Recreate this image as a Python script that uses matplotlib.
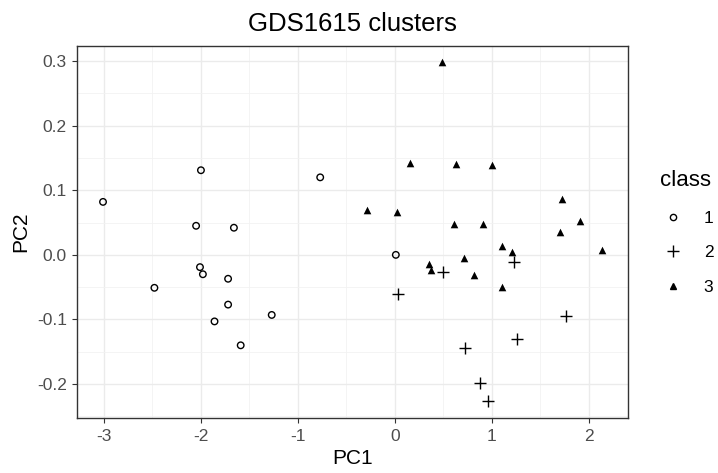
import matplotlib
matplotlib.use("Agg")
import matplotlib.pyplot as plt
from matplotlib.lines import Line2D

plt.rcParams['font.family'] = ['Liberation Sans', 'DejaVu Sans']

# class 1 points (PC1, PC2)
pc1_c1 = [-3.01, -2.00, -0.77, -2.05, -1.66, -2.01, -1.98, -1.72, -2.48, -1.72, -1.27, -1.86, -1.59, 0.01]
pc2_c1 = [0.082, 0.131, 0.120, 0.045, 0.042, -0.019, -0.030, -0.037, -0.051, -0.077, -0.093, -0.103, -0.140, 0.000]

# class 2
pc1_c2 = [1.23, 0.50, 0.03, 1.77, 1.26, 0.72, 0.88, 0.96]
pc2_c2 = [-0.011, -0.027, -0.060, -0.095, -0.131, -0.144, -0.198, -0.226]

# class 3
pc1_c3 = [0.49, 0.16, 0.63, 1.00, -0.29, 0.02, 1.72, 1.91, 0.61, 0.91, 1.70, 1.10, 1.21, 2.14,
          0.71, 0.35, 0.37, 0.82, 1.10]
pc2_c3 = [0.299, 0.142, 0.140, 0.139, 0.070, 0.067, 0.086, 0.053, 0.048, 0.048, 0.035, 0.014, 0.004, 0.007,
          -0.005, -0.014, -0.023, -0.031, -0.049]

xticks = [-3, -2, -1, 0, 1, 2]
yticks = [-0.2, -0.1, 0.0, 0.1, 0.2, 0.3]
xminor = [-2.5, -1.5, -0.5, 0.5, 1.5]
yminor = [-0.25, -0.15, -0.05, 0.05, 0.15, 0.25]

fig = plt.figure(figsize=(7.18, 4.73), dpi=100)
ax = fig.add_axes([0.1077, 0.117, 0.767, 0.786])

ax.scatter(pc1_c1, pc2_c1, marker='o', s=22, facecolors='none', edgecolors='black', linewidths=1.0, zorder=3)
ax.scatter(pc1_c2, pc2_c2, marker='+', s=70, color='black', linewidths=1.0, zorder=3)
ax.scatter(pc1_c3, pc2_c3, marker='^', s=30, color='black', linewidths=0, zorder=3)

ax.set_xlim(-3.275, 2.405)
ax.set_ylim(-0.252, 0.3235)
ax.set_xticks(xticks)
ax.set_yticks(yticks)
ax.set_xticklabels([str(t) for t in xticks])
ax.set_yticklabels(['%.1f' % t for t in yticks])
ax.set_xticks(xminor, minor=True)
ax.set_yticks(yminor, minor=True)
ax.grid(which='major', color='#ebebeb', linewidth=1.0, zorder=0)
ax.grid(which='minor', color='#f2f2f2', linewidth=0.6, zorder=0)
ax.set_axisbelow(True)
ax.tick_params(which='minor', length=0)
ax.tick_params(which='major', length=3.5, color='#333333', labelsize=12.5, labelcolor='#4d4d4d')
ax.tick_params(axis='x', pad=5)
ax.tick_params(axis='y', pad=4)
for s in ax.spines.values():
    s.set_color('#333333')
    s.set_linewidth(1.0)

ax.set_xlabel('PC1', fontsize=15, labelpad=3)
ax.set_ylabel('PC2', fontsize=15, labelpad=5)
ax.set_title('GDS1615 clusters', fontsize=18.5, pad=11)

handles = [
    Line2D([], [], marker='o', linestyle='none', markerfacecolor='none', markeredgecolor='black', markersize=4.5),
    Line2D([], [], marker='+', linestyle='none', color='black', markersize=8),
    Line2D([], [], marker='^', linestyle='none', color='black', markersize=5),
]
leg = fig.legend(handles, ['1', '2', '3'], title='class', loc='upper left', bbox_to_anchor=(0.91, 0.655),
                 frameon=False, fontsize=12.5, title_fontsize=16, labelspacing=1.12, handletextpad=1.0,
                 handlelength=1.5, alignment='left', borderaxespad=0)

fig.savefig('out.png', dpi=100)
